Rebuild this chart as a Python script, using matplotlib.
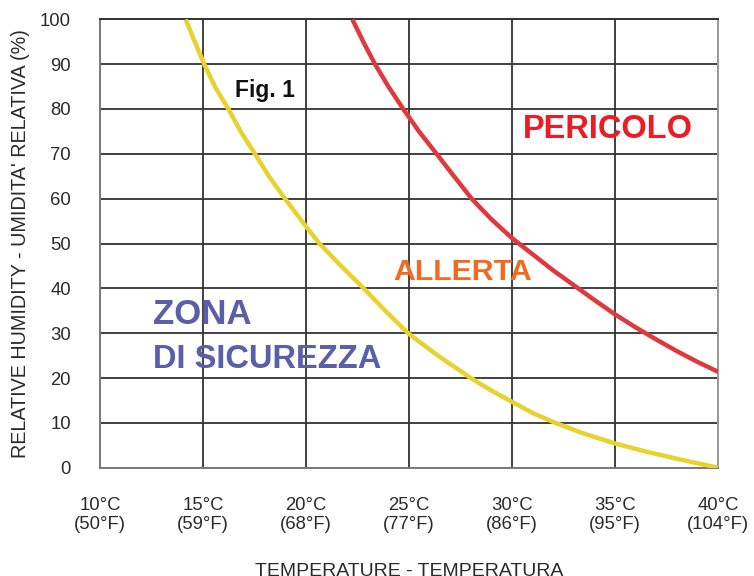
import matplotlib
matplotlib.use("Agg")
import matplotlib.pyplot as plt

# ---- data ----
x_ticks = [10, 15, 20, 25, 30, 35, 40]
x_tick_labels = ["10°C\n(50°F)", "15°C\n(59°F)", "20°C\n(68°F)", "25°C\n(77°F)",
                 "30°C\n(86°F)", "35°C\n(95°F)", "40°C\n(104°F)"]
y_ticks = [0, 10, 20, 30, 40, 50, 60, 70, 80, 90, 100]

# safety limit curve (yellow)
safe_temp = [14.16, 14.6, 15.06, 15.6, 16.23, 16.85, 17.52, 18.2, 18.98, 19.8, 20.65,
             21.7, 22.8, 23.85, 24.95, 26.4, 28.0, 29.0, 30.0, 31.0, 32.1, 33.5,
             35.0, 36.5, 38.0, 39.0, 40.0]
safe_rh = [100.0, 95.0, 90.0, 84.8, 80.0, 74.8, 70.0, 65.0, 60.0, 55.0, 50.0,
           45.0, 40.0, 35.0, 30.0, 25.0, 20.0, 17.2, 14.7, 12.2, 10.0, 7.6,
           5.4, 3.6, 2.0, 1.0, 0.0]

# danger limit curve (red)
danger_temp = [22.25, 22.8, 23.35, 24.0, 24.72, 25.5, 26.34, 27.2, 28.04, 29.0, 30.0,
               31.0, 32.0, 33.0, 34.0, 35.0, 36.0, 37.0, 38.0, 39.0, 40.0]
danger_rh = [100.0, 94.8, 90.0, 85.0, 80.0, 74.9, 70.0, 64.9, 60.0, 55.4, 51.2,
             47.6, 44.0, 40.7, 37.4, 34.2, 31.3, 28.6, 26.0, 23.6, 21.4]

YELLOW = "#e8d22e"
RED = "#e0383c"

plt.rcParams['font.family'] = ['Liberation Sans', 'DejaVu Sans']

fig = plt.figure(figsize=(7.54, 5.76), dpi=100)
ax = fig.add_axes([100/754, 1 - 467.7/576, 618/754, 448.4/576])

ax.set_xlim(10, 40)
ax.set_ylim(0, 100)
ax.set_xticks(x_ticks)
ax.set_xticklabels(x_tick_labels, fontsize=13.3, color="#2a2a2a", linespacing=1.15)
ax.set_yticks(y_ticks)
ax.set_yticklabels([str(v) for v in y_ticks], fontsize=13.3, color="#2a2a2a")
ax.tick_params(axis='both', length=0)
ax.tick_params(axis='x', pad=21)
ax.tick_params(axis='y', pad=21)

ax.grid(True, color="#333333", linewidth=1.3, zorder=1)
ax.set_axisbelow(True)
for side, col in [("left", "#7a7a7a"), ("bottom", "#7a7a7a"), ("right", "#9a9a9a"), ("top", "#333333")]:
    ax.spines[side].set_color(col)
    ax.spines[side].set_linewidth(1.4)

ax.plot(safe_temp, safe_rh, color=YELLOW, linewidth=3.2, solid_capstyle='butt',
        solid_joinstyle='round', zorder=3)
ax.plot(danger_temp, danger_rh, color=RED, linewidth=3.2, solid_capstyle='butt',
        solid_joinstyle='round', zorder=3)

ax.set_xlabel("TEMPERATURE - TEMPERATURA", fontsize=14, color="#2a2a2a", va='top')
ax.xaxis.set_label_coords(0.5, -(563 - 467.7) / 448.4)
ax.set_ylabel("RELATIVE HUMIDITY - UMIDITA' RELATIVA (%)", fontsize=14.2, color="#2a2a2a", va='center')
ax.yaxis.set_label_coords((20 - 100) / 618, 0.5)

ax.text(16.55, 82.7, "Fig. 1", fontsize=16.5, fontweight='bold', color="#111111", zorder=4)
ax.text(12.57, 32.0, "ZONA", fontsize=25, fontweight='bold', color="#5b5ea8", zorder=4)
ax.text(12.57, 22.2, "DI SICUREZZA", fontsize=23.5, fontweight='bold', color="#5b5ea8", zorder=4)
ax.text(24.24, 41.8, "ALLERTA", fontsize=21.8, fontweight='bold', color="#f26a22", zorder=4)
ax.text(30.52, 73.5, "PERICOLO", fontsize=23.5, fontweight='bold', color="#ed1c24", zorder=4)

fig.savefig("out.png", dpi=100)
